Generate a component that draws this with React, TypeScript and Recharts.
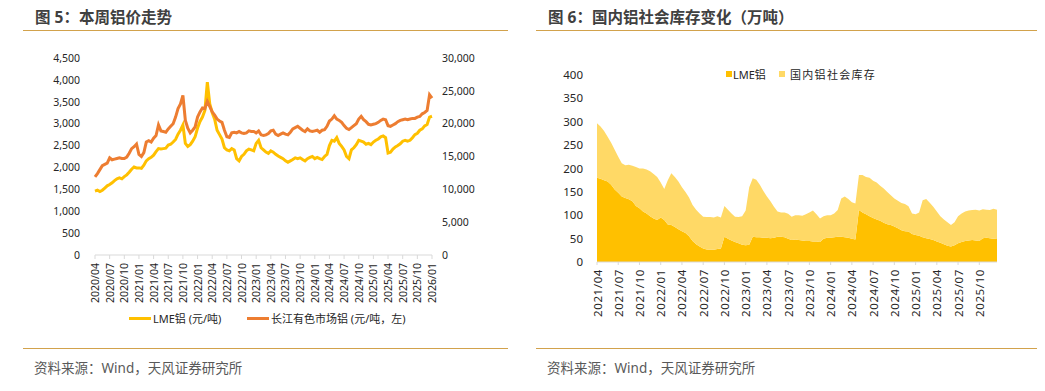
import { LineChart, Line, AreaChart, Area, XAxis, YAxis } from 'recharts';

// 半月度日期（每月 01 / 16）
const halfMonths = (year: number, month: number, count: number) => {
    const out: string[] = [];
    for (let i = 0; i < count; i++) {
        const mm = month - 1 + Math.floor(i / 2);
        const yy = year + Math.floor(mm / 12);
        const mo = (mm % 12) + 1;
        out.push(`${yy}/${String(mo).padStart(2, '0')}/${i % 2 ? '16' : '01'}`);
    }
    return out;
};

// 图5 LME铝（左轴）
const lmePrice = [
    1460, 1480, 1450, 1480, 1530, 1580, 1610, 1650, 1700, 1740, 1760, 1740, 1790, 1830, 1890, 1960, 2010, 1990,
    1990, 1980, 2050, 2150, 2200, 2230, 2280, 2360, 2430, 2420, 2430, 2440, 2510, 2530, 2580, 2640, 2760, 2850, 2970, 2550, 2480, 2520, 2600, 2700,
    2900, 3050, 3150, 3300, 3950, 3450, 3250, 3100, 2850, 2750, 2650, 2450, 2400, 2380, 2430, 2400, 2200, 2150, 2250, 2300, 2380, 2420, 2400, 2380,
    2550, 2620, 2450, 2400, 2350, 2320, 2380, 2350, 2300, 2260, 2230, 2200, 2150, 2120, 2150, 2180, 2220, 2200, 2220, 2180, 2150, 2200, 2230, 2250,
    2200, 2230, 2200, 2180, 2250, 2300, 2500, 2620, 2600, 2680, 2550, 2480, 2400, 2250, 2200, 2400, 2450, 2520, 2620, 2600, 2580, 2530, 2550, 2520,
    2580, 2620, 2650, 2700, 2720, 2680, 2330, 2350, 2420, 2470, 2500, 2540, 2600, 2620, 2600, 2620, 2680, 2750, 2780, 2850, 2880, 2950, 2980, 3150,
    3170,
];

// 图5 长江有色市场铝（右轴）
const cjPrice = [
    11900, 12400, 13000, 13600, 13800, 14000, 14800, 14500, 14600, 14700, 14800, 14700, 14700, 14900, 15500, 16200, 16500, 16900,
    15300, 15000, 15600, 17200, 17400, 17200, 17800, 18200, 19800, 18900, 18800, 18700, 19200, 19600, 20000, 21000, 22300, 23000, 24300, 20500, 19300, 18600, 19000, 19500,
    21000, 21800, 22400, 22300, 23400, 22600, 21800, 21300, 20700, 20400, 20200, 19000, 18000, 17900, 18600, 18700, 18600, 18800, 18600, 18500, 18600, 18900, 18800, 18800,
    18600, 18900, 18300, 18200, 18300, 18500, 18900, 19000, 18400, 18200, 18400, 18600, 18400, 18300, 18700, 19200, 19400, 19600, 19300, 19000, 18800, 19200, 18900, 18800,
    18900, 19000, 18700, 19000, 19100, 19600, 20400, 20700, 21200, 20700, 20500, 20200, 19700, 19300, 19100, 19400, 19700, 20000, 20700, 21100, 20600, 20300, 19900, 19800,
    19900, 20000, 20200, 20500, 20700, 20600, 19700, 19600, 19800, 20000, 20300, 20500, 20600, 20700, 20600, 20700, 20800, 20800, 21000, 21100, 21500, 21700, 22000, 24400,
    23900,
];

// 图6 LME铝库存（万吨）
const lmeStock = [
    180, 178, 175, 172, 165, 155, 148, 140, 137, 134, 130, 120, 115, 108, 104, 98, 93, 90,
    95, 90, 80, 79, 75, 70, 66, 62, 55, 45, 38, 33, 29, 27, 26, 26, 28, 29, 54, 50, 46, 43, 40, 37,
    36, 37, 54, 53, 53, 52, 52, 51, 52, 54, 54, 53, 50, 47, 48, 47, 46, 45, 45, 44, 44, 43, 50, 52,
    52, 53, 54, 54, 53, 52, 50, 48, 111, 106, 102, 98, 94, 91, 88, 84, 81, 79, 76, 72, 68, 66, 65, 60,
    58, 56, 53, 51, 49, 47, 44, 41, 38, 35, 33, 36, 40, 43, 45, 46, 47, 46, 45, 51, 52, 51, 50, 49,
];

// 图6 国内铝社会库存（万吨）
const cnStock = [
    117, 112, 105, 96, 90, 85, 77, 71, 70, 74, 76, 83, 85, 92, 94, 96, 95, 92,
    75, 66, 95, 111, 107, 102, 94, 88, 83, 77, 74, 71, 68, 69, 70, 69, 70, 66, 66, 62, 58, 54, 56, 61,
    74, 123, 125, 123, 112, 100, 88, 79, 66, 54, 52, 53, 53, 50, 52, 53, 53, 57, 61, 66, 58, 50, 48, 48,
    48, 51, 57, 82, 87, 83, 78, 77, 75, 80, 80, 82, 80, 79, 75, 73, 69, 64, 60, 59, 58, 58, 54, 44,
    44, 50, 79, 84, 78, 71, 64, 57, 53, 50, 46, 49, 58, 61, 63, 64, 64, 66, 65, 62, 60, 60, 64, 63,
];

const leftTicks = [0, 500, 1000, 1500, 2000, 2500, 3000, 3500, 4000, 4500];
const rightTicks = [0, 5000, 10000, 15000, 20000, 25000, 30000];
const stockTicks = [0, 50, 100, 150, 200, 250, 300, 350, 400];

const priceDates = halfMonths(2020, 4, lmePrice.length);
const stockDates = halfMonths(2021, 4, lmeStock.length);

const priceData = priceDates.map((date, i) => ({ date, lme: lmePrice[i], cj: cjPrice[i] }));
const stockData = stockDates.map((date, i) => ({ date, lme: lmeStock[i], cn: cnStock[i] }));

const FONT = '"Noto Sans", "Noto Sans CJK SC", sans-serif';
const GOLD = '#D2A24C';
const AXIS = '#D9D9D9';
const fmt = (v: number) => v.toLocaleString('en-US');

const VTick = ({ x, y, payload, fontSize, spacing }: any) => (
    <text
        x={x}
        y={y}
        transform={`rotate(-90 ${x} ${y})`}
        textAnchor="end"
        dominantBaseline="central"
        fontSize={fontSize}
        letterSpacing={spacing}
        fill="#262626"
        fontFamily={FONT}
    >
        {String(payload.value).slice(0, 7)}
    </text>
);

const Header = ({ left, width, title }: { left: number; width: number; title: string }) => (
    <>
        <div style={{ position: 'absolute', left: left + 12, top: 5, fontSize: 15.5, fontWeight: 700, color: '#404040', whiteSpace: 'nowrap' }}>
            {title}
        </div>
        <div style={{ position: 'absolute', left, top: 30, width, height: 0, borderTop: `1.5px solid ${GOLD}` }} />
        <div style={{ position: 'absolute', left, top: 348, width, height: 0, borderTop: `1.5px solid ${GOLD}` }} />
        <div style={{ position: 'absolute', left: left + 11, top: 357, fontSize: 13.5, color: '#595959', whiteSpace: 'nowrap' }}>
            资料来源：Wind，天风证券研究所
        </div>
    </>
);

const App = () => {
    return (
        <div style={{ position: 'absolute', left: 0, top: 0, width: 1045, height: 391, background: '#fff', fontFamily: FONT }}>
            <Header left={23} width={485} title="图 5：本周铝价走势" />
            <Header left={536} width={501} title="图 6：国内铝社会库存变化（万吨）" />

            <div style={{ position: 'absolute', left: 0, top: 0 }}>
                <LineChart width={520} height={310} data={priceData} margin={{ top: 58, right: 0, bottom: 0, left: 0 }}>
                    <XAxis
                        dataKey="date"
                        interval={5}
                        height={55}
                        tickSize={4}
                        tickMargin={4}
                        axisLine={{ stroke: AXIS }}
                        tickLine={{ stroke: AXIS }}
                        tick={<VTick fontSize={10.5} spacing={0} />}
                    />
                    <YAxis
                        yAxisId="left"
                        width={95}
                        domain={[0, 4500]}
                        ticks={leftTicks}
                        tickFormatter={fmt}
                        axisLine={false}
                        tickLine={false}
                        tickSize={0}
                        tickMargin={15}
                        tick={{ fontSize: 10.5, fill: '#262626' }}
                    />
                    <YAxis
                        yAxisId="right"
                        orientation="right"
                        width={88}
                        domain={[0, 30000]}
                        ticks={rightTicks}
                        tickFormatter={fmt}
                        axisLine={false}
                        tickLine={false}
                        tickSize={0}
                        tickMargin={10}
                        tick={{ fontSize: 10.5, fill: '#262626' }}
                    />
                    <Line yAxisId="left" dataKey="lme" stroke="#FFC000" strokeWidth={3} dot={false} isAnimationActive={false} />
                    <Line yAxisId="right" dataKey="cj" stroke="#ED7D31" strokeWidth={3} dot={false} isAnimationActive={false} />
                </LineChart>
            </div>

            <div style={{ position: 'absolute', left: 0, top: 310, width: 520, fontSize: 11, color: '#262626' }}>
                <div style={{ position: 'absolute', left: 129, top: 7, width: 22, height: 3, background: '#FFC000' }} />
                <div style={{ position: 'absolute', left: 153, top: 0, whiteSpace: 'nowrap' }}>LME铝 (元/吨)</div>
                <div style={{ position: 'absolute', left: 247, top: 7, width: 22, height: 3, background: '#ED7D31' }} />
                <div style={{ position: 'absolute', left: 271, top: 0, whiteSpace: 'nowrap' }}>长江有色市场铝 (元/吨，左)</div>
            </div>

            <div style={{ position: 'absolute', left: 520, top: 0 }}>
                <AreaChart width={525} height={322} data={stockData} margin={{ top: 75, right: 48, bottom: 0, left: 0 }}>
                    <XAxis
                        dataKey="date"
                        interval={5}
                        height={60}
                        tickSize={3}
                        tickMargin={4}
                        axisLine={{ stroke: AXIS }}
                        tickLine={{ stroke: AXIS }}
                        tick={<VTick fontSize={11.5} spacing={0.6} />}
                    />
                    <YAxis
                        width={77}
                        domain={[0, 400]}
                        ticks={stockTicks}
                        axisLine={false}
                        tickLine={false}
                        tickSize={0}
                        tickMargin={14}
                        tick={{ fontSize: 11.5, fill: '#262626' }}
                    />
                    <Area dataKey="lme" stackId="s" stroke="none" fill="#FFC000" fillOpacity={1} isAnimationActive={false} />
                    <Area dataKey="cn" stackId="s" stroke="none" fill="#FFD966" fillOpacity={1} isAnimationActive={false} />
                </AreaChart>
            </div>

            <div style={{ position: 'absolute', left: 520, top: 66, fontSize: 11, color: '#262626' }}>
                <div style={{ position: 'absolute', left: 206, top: 5, width: 6, height: 6, background: '#FFC000' }} />
                <div style={{ position: 'absolute', left: 213, top: 0, whiteSpace: 'nowrap' }}>LME铝</div>
                <div style={{ position: 'absolute', left: 259, top: 5, width: 6, height: 6, background: '#FFD966' }} />
                <div style={{ position: 'absolute', left: 270, top: 0, whiteSpace: 'nowrap', letterSpacing: 1.3 }}>国内铝社会库存</div>
            </div>
        </div>
    );
};

export default App;
